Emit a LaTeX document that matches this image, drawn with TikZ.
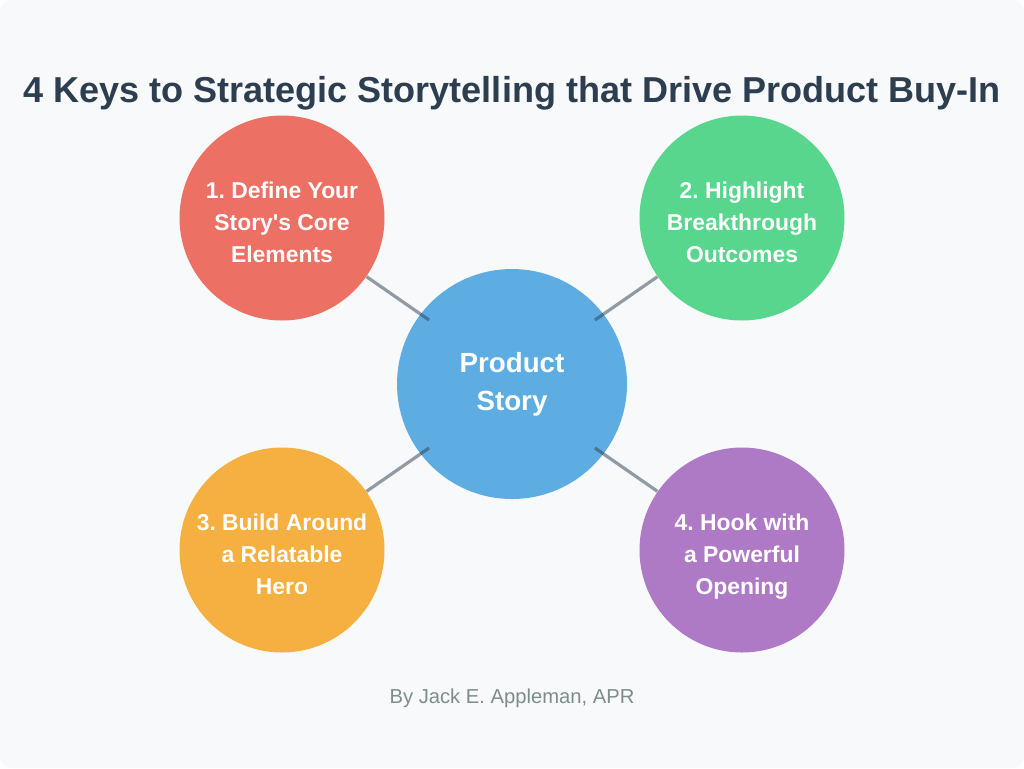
\documentclass[tikz,border=0pt]{standalone}
\usepackage{fontspec}
\setmainfont{Liberation Sans}
\frenchspacing
\definecolor{bgpage}{HTML}{F8F9FA}
\definecolor{titlecol}{HTML}{2C3E50}
\definecolor{bycol}{HTML}{7F8C8D}
\definecolor{hubcol}{HTML}{5DADE2}
\definecolor{redcol}{HTML}{EC7063}
\definecolor{greencol}{HTML}{58D68D}
\definecolor{orangecol}{HTML}{F5B041}
\definecolor{purplecol}{HTML}{AF7AC5}
\newlength{\pxu}
\setlength{\pxu}{0.5pt}
\tikzset{
    keycircle/.style = {circle,minimum size=205\pxu,inner sep=0pt,align=center,text=white,
        text height=89\pxu,text depth=0pt,
        font=\fontsize{22.9\pxu}{32\pxu}\selectfont\bfseries},
    link/.style = {draw=titlecol,draw opacity=0.5,line width=3.2\pxu},
}
\begin{document}
\begin{tikzpicture}[x=\pxu,y=-\pxu]

    \fill[white] (0,0) rectangle (1024,768);
    \fill[bgpage,rounded corners=12\pxu] (0,0) rectangle (1024,768);
    \useasboundingbox (0,0) rectangle (1024,768);

    \node (title) [text=titlecol,font=\fontsize{36.05\pxu}{40\pxu}\selectfont\bfseries] at (512,93)
        {4 Keys to Strategic Storytelling that Drive Product Buy-In};

    \node (hub) [circle,minimum size=230\pxu,inner sep=0pt,align=center,text=white,fill=hubcol,
        font=\fontsize{27.7\pxu}{38\pxu}\selectfont\bfseries] at (512,384) {Product\\Story};

    \node (k1) [keycircle,fill=redcol] at (282,218) {1. Define Your\\Story\textquotesingle s Core\\Elements};
    \node (k2) [keycircle,fill=greencol] at (742,218) {2. Highlight\\Breakthrough\\Outcomes};
    \node (k3) [keycircle,fill=orangecol] at (282,550) {3. Build Around\\a Relatable\\Hero};
    \node (k4) [keycircle,fill=purplecol] at (742,550) {4. Hook with\\a Powerful\\Opening};

    \coordinate (e1) at (429,320);
    \coordinate (e2) at (595,320);
    \coordinate (e3) at (429,448);
    \coordinate (e4) at (595,448);

    \draw[link] (k1) -- (e1);
    \draw[link] (k2) -- (e2);
    \draw[link] (k3) -- (e3);
    \draw[link] (k4) -- (e4);

    \node (by) [text=bycol,font=\fontsize{20.2\pxu}{24\pxu}\selectfont] at (512,698) {By Jack E. Appleman, APR};

\end{tikzpicture}
\end{document}
